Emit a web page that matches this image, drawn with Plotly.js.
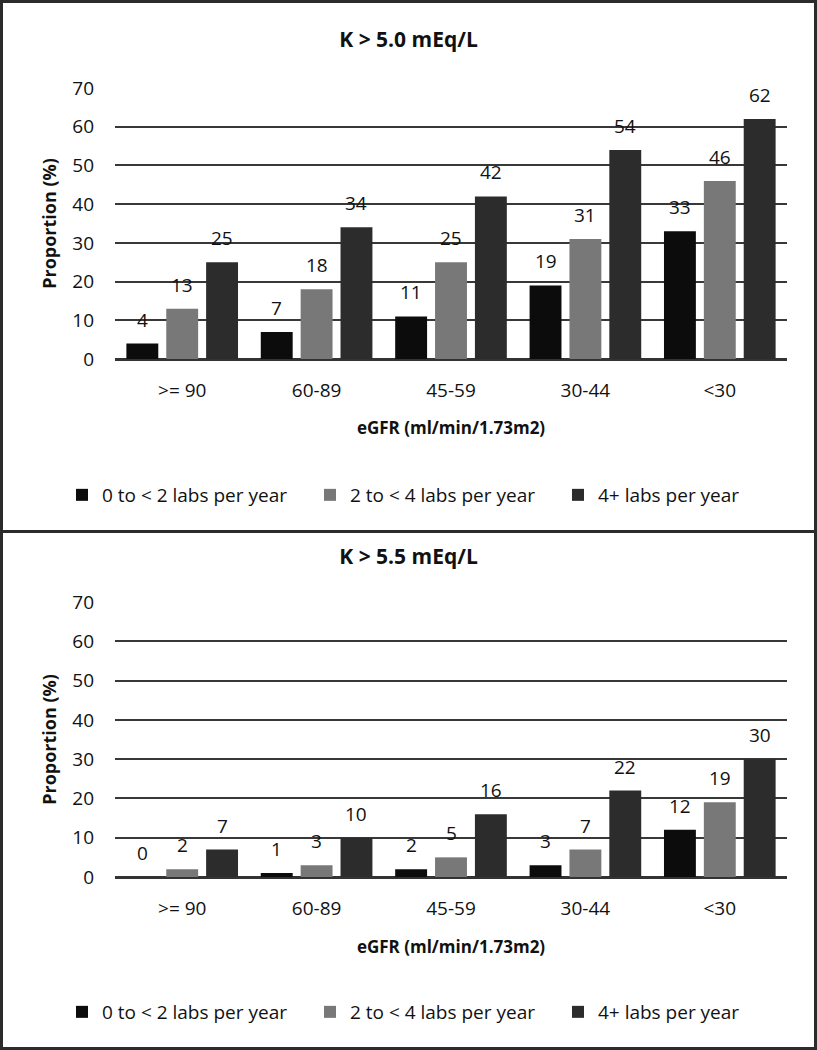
<!DOCTYPE html>
<html>
<head>
<meta charset="utf-8">
<script src="https://cdn.plot.ly/plotly-3.0.1.min.js"></script>
<style>
  html, body { margin: 0; padding: 0; background: #fff; }
  #frame { width: 817px; height: 1050px; box-sizing: border-box; border: 3px solid #2b2b2b; background: #fff; }
  #chart1 { width: 811px; height: 527px; border-bottom: 3px solid #2b2b2b; }
  #chart2 { width: 811px; height: 514px; }
</style>
</head>
<body>
<div id="frame">
  <div id="chart1"></div>
  <div id="chart2"></div>
</div>
<script>
// ---- data ----
const categories = ['>= 90', '60-89', '45-59', '30-44', '<30'];
const seriesNames = ['0 to < 2 labs per year', '2 to < 4 labs per year', '4+ labs per year'];

const k50_lt2 = [4, 7, 11, 19, 33];
const k50_2to4 = [13, 18, 25, 31, 46];
const k50_4plus = [25, 34, 42, 54, 62];

const k55_lt2 = [0, 1, 2, 3, 12];
const k55_2to4 = [2, 3, 5, 7, 19];
const k55_4plus = [7, 10, 16, 22, 30];

const yTicks = [0, 10, 20, 30, 40, 50, 60, 70];

// ---- style ----
const FONT = 'Open Sans, Noto Sans, sans-serif';
const colors = ['#0c0c0c', '#787878', '#2c2c2c'];
const BARGAP = 0.11;
const GROUPGAP = 0.2;

function makeChart(divId, titleText, seriesList, opts) {
  const traces = seriesList.map((vals, i) => ({
    type: 'bar',
    name: seriesNames[i],
    x: categories,
    y: vals,
    marker: { color: colors[i], line: { width: 0 } },
    hoverinfo: 'x+y+name'
  }));

  const slot = (1 - BARGAP) / 3;
  const annotations = [];
  seriesList.forEach((vals, i) => {
    vals.forEach((v, j) => {
      annotations.push({
        x: j + (i - 1) * slot,
        y: v,
        xref: 'x', yref: 'y',
        text: String(v),
        showarrow: false,
        yanchor: 'middle',
        yshift: 24,
        font: { family: FONT, size: 19, color: '#111' }
      });
    });
  });

  const layout = {
    width: 811,
    height: opts.height,
    margin: { l: 112, r: 27, t: opts.top, b: opts.height - opts.top - opts.plotH },
    paper_bgcolor: '#fff',
    plot_bgcolor: '#fff',
    font: { family: FONT, size: 19, color: '#111' },
    title: {
      text: '<b>' + titleText + '</b>',
      font: { family: FONT, size: 21, color: '#111' },
      x: 0.5, xref: 'container', xanchor: 'center',
      y: opts.titleY, yref: 'container', yanchor: 'middle'
    },
    barmode: 'group',
    bargap: BARGAP,
    bargroupgap: GROUPGAP,
    showlegend: true,
    legend: {
      orientation: 'h',
      x: -0.0789, xanchor: 'left',
      y: opts.legendY, yanchor: 'middle',
      font: { family: FONT, size: 19, color: '#111' },
      entrywidth: 203, entrywidthmode: 'pixels',
      traceorder: 'normal'
    },
    xaxis: {
      type: 'category',
      showgrid: false,
      showline: false,
      zeroline: false,
      ticks: '',
      ticklabelstandoff: 18,
      tickfont: { family: FONT, size: 19, color: '#111' },
      title: { text: '<b>eGFR (ml/min/1.73m2)</b>', font: { family: FONT, size: 17, color: '#111' }, standoff: opts.xTitleStandoff },
      automargin: false,
      fixedrange: true
    },
    yaxis: {
      range: [0, 70],
      tickvals: yTicks,
      showgrid: true,
      gridcolor: '#383838',
      gridwidth: 2,
      zeroline: true,
      zerolinecolor: '#333',
      zerolinewidth: 3,
      ticks: '',
      ticklabelstandoff: 20,
      tickfont: { family: FONT, size: 19, color: '#111' },
      title: { text: '<b>Proportion (%)</b>', font: { family: FONT, size: 18, color: '#111' }, standoff: 10 },
      automargin: false,
      fixedrange: true
    },
    annotations: annotations
  };

  Plotly.newPlot(divId, traces, layout, { displayModeBar: false, staticPlot: true });
}

makeChart('chart1', 'K &gt; 5.0 mEq/L', [k50_lt2, k50_2to4, k50_4plus],
  { height: 527, top: 85, plotH: 271, titleY: 1 - 37 / 527, legendY: -136 / 271, xTitleStandoff: 20 });
makeChart('chart2', 'K &gt; 5.5 mEq/L', [k55_lt2, k55_2to4, k55_4plus],
  { height: 514, top: 69, plotH: 275, titleY: 1 - 24 / 514, legendY: -135 / 275, xTitleStandoff: 21 });
</script>
</body>
</html>
